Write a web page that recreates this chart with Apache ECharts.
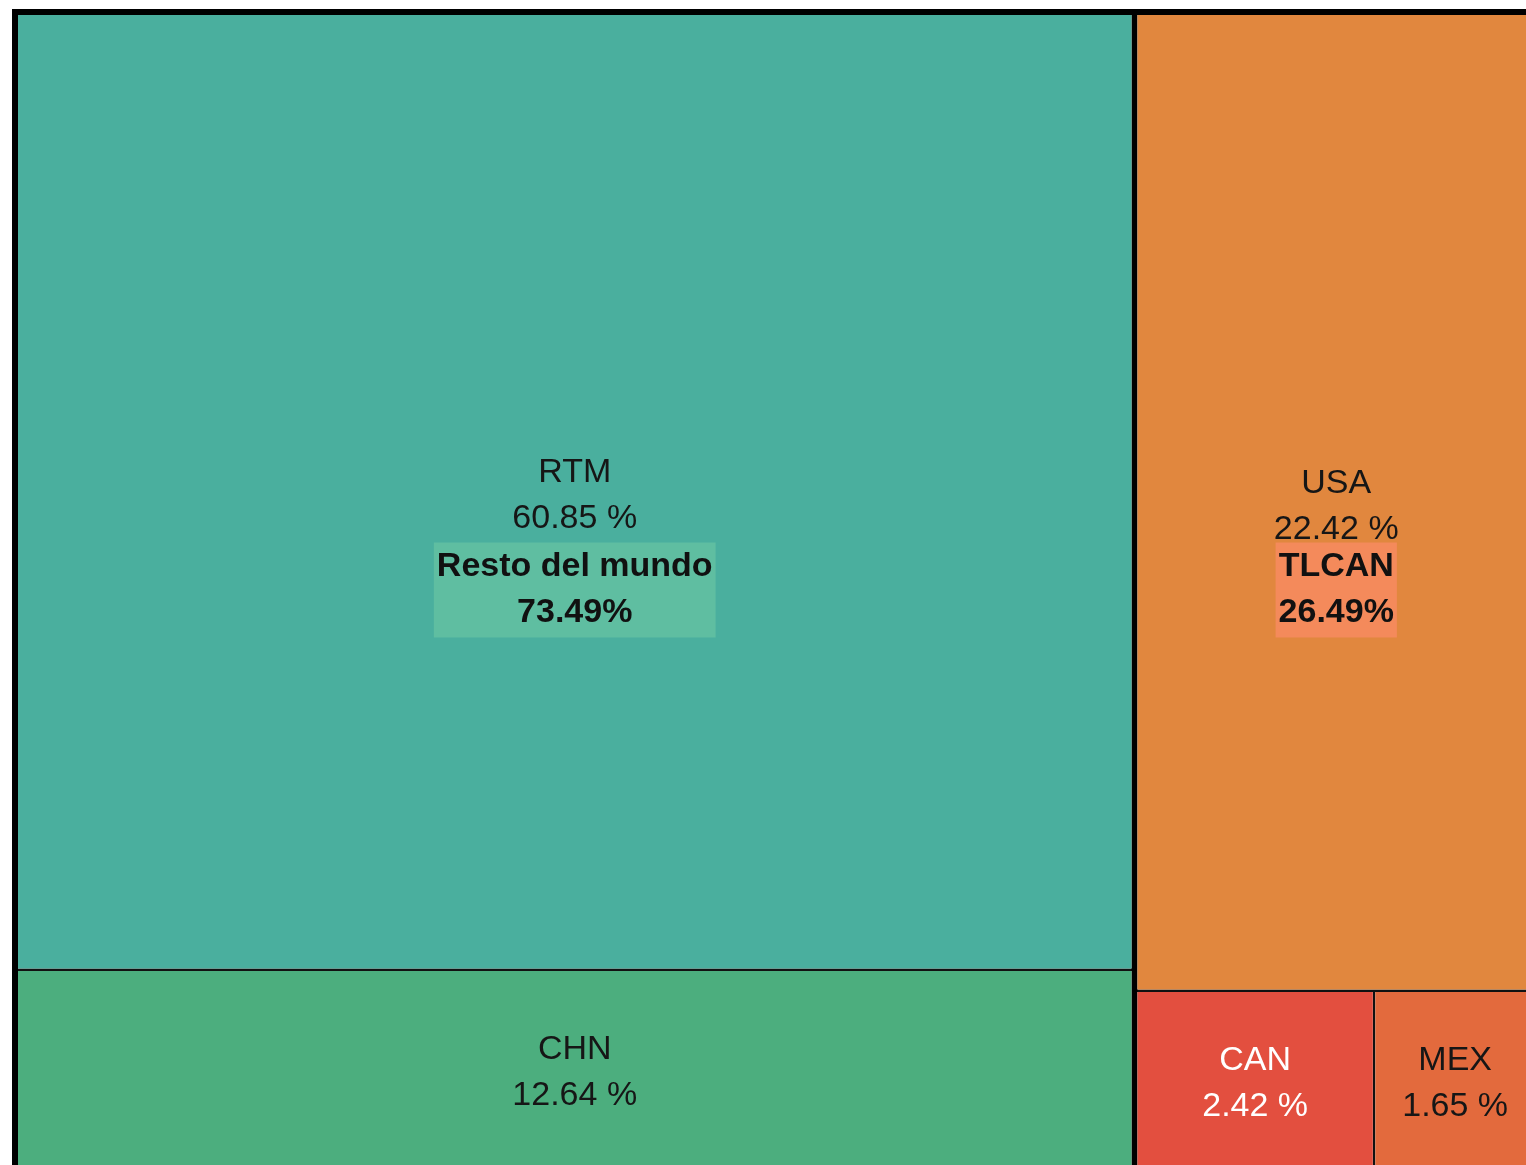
<!DOCTYPE html>
<html>
<head>
<meta charset="utf-8">
<script src="https://cdn.jsdelivr.net/npm/echarts@6/dist/echarts.min.js"></script>
<style>
  html, body { margin: 0; padding: 0; background: #ffffff; }
  #chart { width: 1526px; height: 1165px; }
</style>
</head>
<body>
<div id="chart"></div>
<script>
// ---- data ----
const groupNames = ['Resto del mundo', 'TLCAN'];
const groupShares = [73.49, 26.49];
const countryNames = ['RTM', 'CHN', 'USA', 'CAN', 'MEX'];
const countryGroup = [0, 0, 1, 1, 1];
const countryShares = [60.85, 12.64, 22.42, 2.42, 1.65];

// ---- styles ----
const countryColors = { RTM: '#4AAF9E', CHN: '#4CAE7E', USA: '#E1873E', CAN: '#E34F3F', MEX: '#E36A3D' };
const countryTextColors = { RTM: '#161616', CHN: '#161616', USA: '#161616', CAN: '#ffffff', MEX: '#161616' };
const groupBoxColors = ['#5FBEA1', '#F48A5B'];
const FONT = "'Liberation Sans', Arial, Helvetica, sans-serif";

const treeData = groupNames.map((g, gi) => ({
  name: g,
  children: countryNames
    .map((c, ci) => ({ c, ci }))
    .filter(o => countryGroup[o.ci] === gi)
    .map(o => ({
      name: o.c,
      value: countryShares[o.ci],
      itemStyle: { color: countryColors[o.c] },
      label: { color: countryTextColors[o.c] }
    }))
}));

const chart = echarts.init(document.getElementById('chart'), null, { renderer: 'canvas' });

const option = {
  animation: false,
  series: [{
    type: 'treemap',
    left: 12,
    top: 9,
    width: 1529,
    height: 1164,
    roam: false,
    nodeClick: false,
    breadcrumb: { show: false },
    sort: 'desc',
    squareRatio: 0.5 * (1 + Math.sqrt(5)),
    label: {
      show: true,
      position: 'inside',
      offset: [0, 4],
      padding: 0,
      fontFamily: FONT,
      fontSize: 34,
      lineHeight: 46,
      color: '#161616',
      formatter: p => p.name + '\n' + Number(p.value).toFixed(2) + ' %'
    },
    emphasis: { disabled: true },
    levels: [
      { itemStyle: { borderColor: '#000000', borderWidth: 6, gapWidth: 6 } },
      { itemStyle: { borderColor: '#111111', borderWidth: 0, gapWidth: 2.5 } },
      { itemStyle: { borderWidth: 0 } }
    ],
    data: treeData
  }]
};
chart.setOption(option);

// Group labels, centred on the group rectangles computed by the treemap layout
function addGroupLabels() {
  const sm = chart.getModel().getSeriesByIndex(0);
  const info = sm.layoutInfo || { x: 12, y: 9 };
  const root = sm.getData().tree.root;
  const rl = root.getLayout() || { x: 0, y: 0 };
  const elements = root.children.map(node => {
    const l = node.getLayout();
    const gi = groupNames.indexOf(node.name);
    return {
      type: 'text',
      silent: true,
      z: 100,
      x: info.x + (rl.x || 0) + l.x + l.width / 2,
      y: info.y + (rl.y || 0) + l.y + l.height / 2 - 1,
      style: {
        text: node.name + '\n' + groupShares[gi].toFixed(2) + '%',
        fontFamily: FONT,
        fontSize: 34,
        fontWeight: 'bold',
        lineHeight: 46,
        fill: '#111111',
        align: 'center',
        verticalAlign: 'middle',
        backgroundColor: groupBoxColors[gi],
        padding: [2, 3, 1, 3]
      }
    };
  });
  chart.setOption({ graphic: elements });
}
addGroupLabels();
</script>
</body>
</html>
